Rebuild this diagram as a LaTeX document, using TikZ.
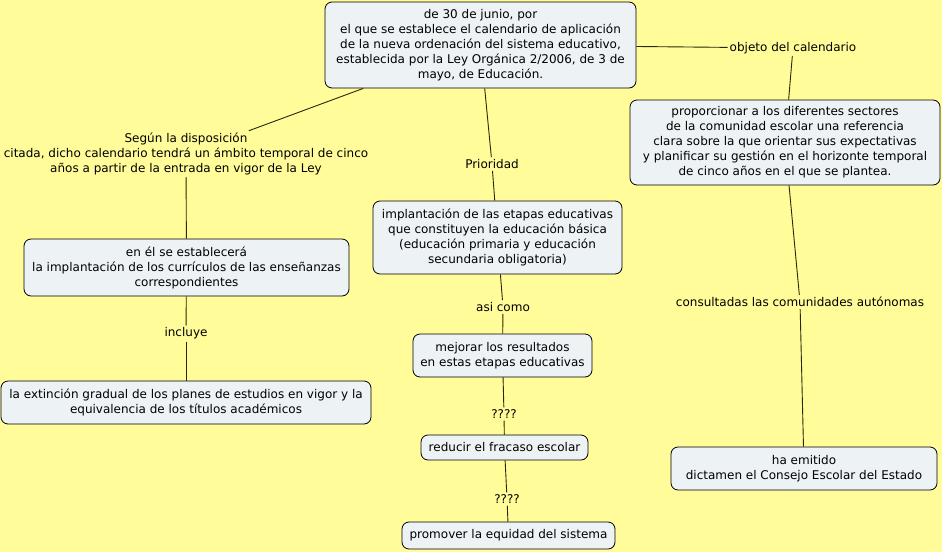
\documentclass[tikz,border=0pt]{standalone}
\usepackage{fontspec}
\setmainfont{DejaVu Sans}
\definecolor{bgc}{RGB}{255,252,153}
\definecolor{boxc}{RGB}{237,242,245}
\definecolor{linec}{RGB}{40,40,10}
\tikzset{
  concept/.style={draw=black, fill=boxc, rounded corners=7pt, align=center, inner sep=0pt, line width=0.8pt, font=\fontsize{12}{15}\selectfont},
  lbl/.style={align=center, inner sep=2pt, font=\fontsize{12}{15}\selectfont},
  conn/.style={draw=linec, line width=0.9pt}
}
\begin{document}
\begin{tikzpicture}[x=1pt,y=-1pt]
\fill[bgc] (0,0) rectangle (942,552);
\useasboundingbox (0,0) rectangle (942,552);
% concepts
\node[concept, minimum width=311, minimum height=86] (top) at (480.5,45) {de 30 de junio, por\\el que se establece el calendario de aplicación\\de la nueva ordenación del sistema educativo,\\establecida por la Ley Orgánica 2/2006, de 3 de\\mayo, de Educación.};
\node[concept, minimum width=310, minimum height=85] (prop) at (785,142.5) {proporcionar a los diferentes sectores\\de la comunidad escolar una referencia\\clara sobre la que orientar sus expectativas\\y planificar su gestión en el horizonte temporal\\de cinco años en el que se plantea.};
\node[concept, minimum width=325, minimum height=57] (enel) at (186.5,267.5) {en él se establecerá\\la implantación de los currículos de las enseñanzas\\correspondientes};
\node[concept, minimum width=370, minimum height=43] (ext) at (186,402.5) {la extinción gradual de los planes de estudios en vigor y la\\equivalencia de los títulos académicos};
\node[concept, minimum width=249, minimum height=73] (impl) at (497.5,237.5) {implantación de las etapas educativas\\que constituyen la educación básica\\(educación primaria y educación\\secundaria obligatoria)};
\node[concept, minimum width=179, minimum height=43] (mej) at (502.5,355.5) {mejorar los resultados\\en estas etapas educativas};
\node[concept, minimum width=167, minimum height=25] (red) at (504.5,447.5) {reducir el fracaso escolar};
\node[concept, minimum width=213, minimum height=27] (prom) at (508.5,535.5) {promover la equidad del sistema};
\node[concept, minimum width=266, minimum height=43] (ha) at (804,468.5) {ha emitido\\dictamen el Consejo Escolar del Estado};
% labels
\node[lbl] (obj) at (793,48) {objeto del calendario};
\node[lbl] (seg) at (186,154) {Según la disposición\\citada, dicho calendario tendrá un ámbito temporal de cinco\\años a partir de la entrada en vigor de la Ley};
\node[lbl] (inc) at (186,333.5) {incluye};
\node[lbl] (pri) at (492,164) {Prioridad};
\node[lbl] (asi) at (503,307) {asi como};
\node[lbl] (q1) at (504,414) {????};
\node[lbl] (q2) at (507,499) {????};
\node[lbl] (cons) at (800,302) {consultadas las comunidades autónomas};
% connectors
\draw[conn] (top) -- (obj);
\draw[conn] (obj) -- (prop);
\draw[conn] (top) -- (seg);
\draw[conn] (seg) -- (enel);
\draw[conn] (enel) -- (inc);
\draw[conn] (inc) -- (ext);
\draw[conn] (top) -- (pri);
\draw[conn] (pri) -- (impl);
\draw[conn] (impl) -- (asi);
\draw[conn] (asi) -- (mej);
\draw[conn] (mej) -- (q1);
\draw[conn] (q1) -- (red);
\draw[conn] (red) -- (q2);
\draw[conn] (q2) -- (prom);
\draw[conn] (prop) -- (cons);
\draw[conn] (cons) -- (ha);
\end{tikzpicture}
\end{document}
